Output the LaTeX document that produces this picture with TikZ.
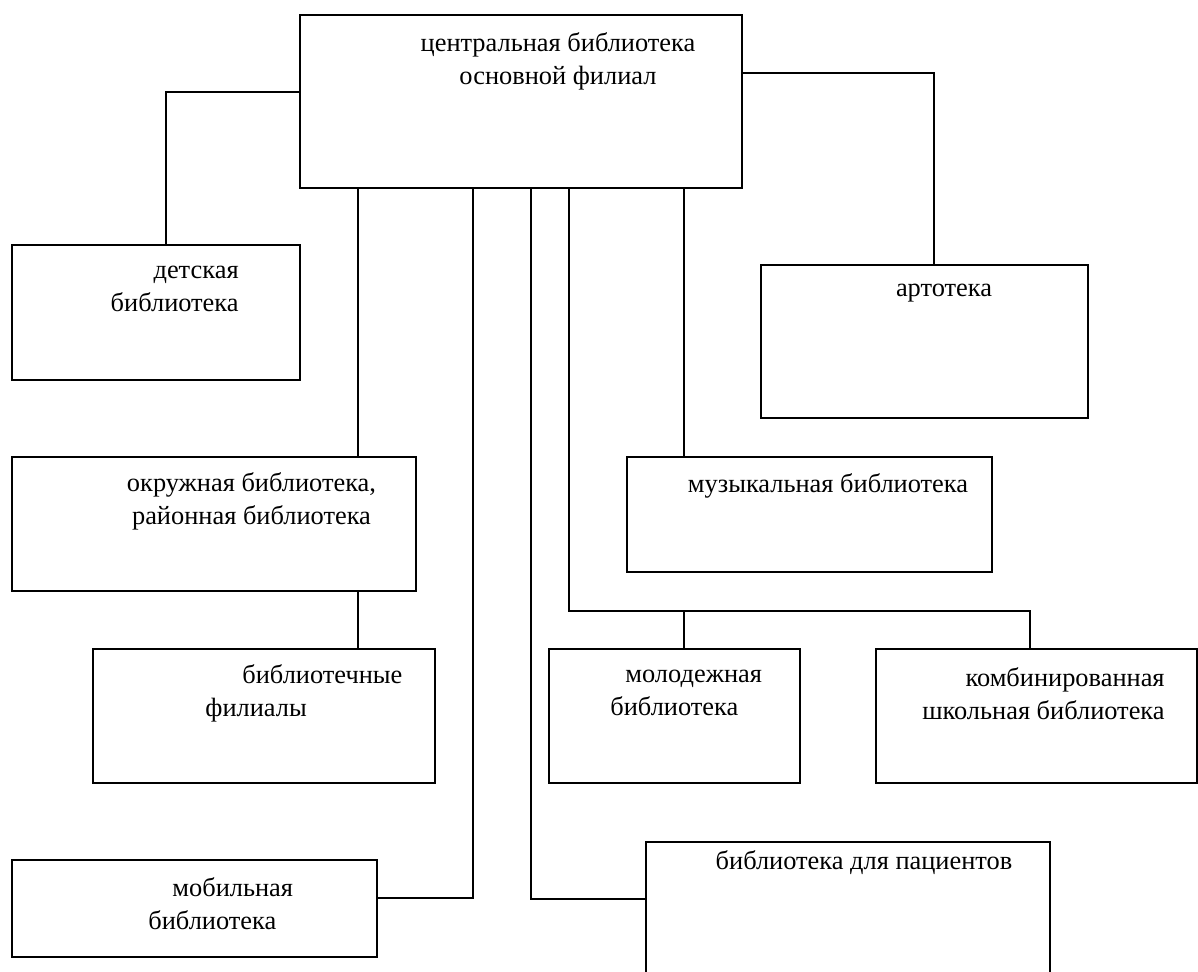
\documentclass[tikz,border=0pt]{standalone}
\usepackage{fontspec}
\setmainfont{Liberation Serif}
\usepackage{tikz}

\begin{document}
\begin{tikzpicture}[x=0.5pt,y=-0.5pt,
    blk/.style={draw,line width=0.7pt,inner sep=0pt},
    txt/.style={inner sep=0pt,font=\fontsize{13.2pt}{16.5pt}\selectfont}]
  \clip (0,0) rectangle (1198,972);
  \fill[white] (0,0) rectangle (1198,972);

  % boxes
  \node[blk,minimum width=221pt,minimum height=86.5pt] (central) at (521,101.5) {};
  \node[blk,minimum width=144pt,minimum height=67.5pt] (det) at (156,312.5) {};
  \node[blk,minimum width=163.5pt,minimum height=76.5pt] (art) at (924.5,341.5) {};
  \node[blk,minimum width=202pt,minimum height=67pt] (okr) at (214,524) {};
  \node[blk,minimum width=182.5pt,minimum height=57.5pt] (mus) at (809.5,514.5) {};
  \node[blk,minimum width=171pt,minimum height=67pt] (fil) at (264,716) {};
  \node[blk,minimum width=125.5pt,minimum height=67pt] (mol) at (674.5,716) {};
  \node[blk,minimum width=160.5pt,minimum height=67pt] (kom) at (1036.5,716) {};
  \node[blk,minimum width=182.5pt,minimum height=48.5pt] (mob) at (194.5,908.5) {};
  \node[blk,minimum width=202pt,minimum height=74pt] (pac) at (848,916) {};

  % labels
  \node[txt,align=center] (central-t) at (558,61) {центральная библиотека\\основной филиал};
  \node[txt,align=right,anchor=east] (det-t) at (239,289) {детская\\библиотека};
  \node[txt] (art-t) at (944,293) {артотека};
  \node[txt,align=center] (okr-t) at (251.5,501) {окружная библиотека,\\районная библиотека};
  \node[txt] (mus-t) at (828,486) {музыкальная библиотека};
  \node[txt,align=left,anchor=west] (fil-t) at (205,693.5) {\hspace*{18.5pt}библиотечные\\филиалы};
  \node[txt,align=left,anchor=west] (mol-t) at (610,693) {\hspace*{7.5pt}молодежная\\библиотека};
  \node[txt,align=right,anchor=east] (kom-t) at (1165,693.5) {комбинированная\\школьная библиотека};
  \node[txt,align=left,anchor=west] (mob-t) at (148,903.5) {\hspace*{12pt}мобильная\\библиотека};
  \node[txt] (pac-t) at (864,863) {библиотека для пациентов};

  % connector positions
  \coordinate (ydet) at (166,92);
  \coordinate (yart) at (934,73);
  \coordinate (xokr) at (358,0);
  \coordinate (xmob) at (473,898);
  \coordinate (xpac) at (531,899);
  \coordinate (xbus) at (569,611);
  \coordinate (xmus) at (684,0);
  \coordinate (xkom) at (1030,0);

  \draw[line width=0.7pt] (central.west |- ydet) -| (det.north -| ydet);
  \draw[line width=0.7pt] (central.east |- yart) -| (art.north -| yart);
  \draw[line width=0.7pt] (central.south -| xokr) -- (okr.north -| xokr);
  \draw[line width=0.7pt] (okr.south -| xokr) -- (fil.north -| xokr);
  \draw[line width=0.7pt] (central.south -| xmob) |- (mob.east |- xmob);
  \draw[line width=0.7pt] (central.south -| xpac) |- (pac.west |- xpac);
  \draw[line width=0.7pt] (central.south -| xmus) -- (mus.north -| xmus);
  \draw[line width=0.7pt] (central.south -| xbus) |- (xbus -| xkom) -- (kom.north -| xkom);
  \draw[line width=0.7pt] (xbus -| xmus) -- (mol.north -| xmus);
\end{tikzpicture}
\end{document}
